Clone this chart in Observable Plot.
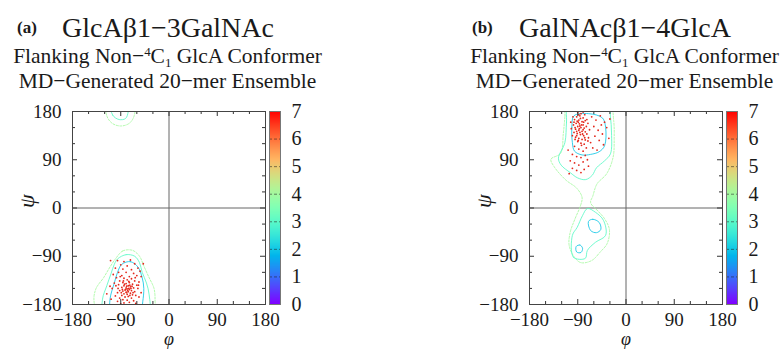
<!DOCTYPE html>
<html>
<head>
<meta charset="utf-8">
<script src="https://cdn.jsdelivr.net/npm/d3@7"></script>
<script src="https://cdn.jsdelivr.net/npm/@observablehq/plot@0.6"></script>
<style>
  body { margin: 0; background: #fff; }
  #fig { position: relative; width: 781px; height: 349px; overflow: hidden;
         font-family: "Liberation Serif", serif; color: #1a1a1a; }
  .abs { position: absolute; white-space: nowrap; line-height: 1; }
  .abs svg { overflow: visible; font-family: "Liberation Serif", serif !important; }
  .abs svg text { font-family: "Liberation Serif", serif !important; }
  .tag { font-size: 17px; font-weight: bold; }
  .name { font-size: 28px; }
  .sub { font-size: 21.5px; text-align: center; width: 335px; }
  .sup { font-size: 0.6em; position: relative; top: -0.55em; }
  .subs { font-size: 0.6em; position: relative; top: 0.3em; }
</style>
</head>
<body>
<div id="fig"></div>
<script>
// Panel titles and axis ticks
const panelTags = ["(a)", "(b)"];
const linkages = ["GlcAβ1−3GalNAc", "GalNAcβ1−4GlcA"];
const angleTicks = [-180, -90, 0, 90, 180];
const majorTicks = [-90, 0, 90];
const minorTicks = [-150, -120, -60, -30, 30, 60, 120, 150];
const levelTicks = [0, 1, 2, 3, 4, 5, 6, 7];
const levelDashes = [1, 2, 3, 4, 5, 6];

// 20-mer ensemble glycosidic torsions (phi, psi), GlcAβ1-3GalNAc
const ensembleA = [
  [-96,-98],[-84,-100],[-72,-97],[-64,-104],[-90,-106],[-78,-108],[-58,-112],[-100,-112],[-86,-114],[-70,-115],
  [-54,-118],[-94,-120],[-80,-120],[-66,-122],[-104,-124],[-60,-126],[-88,-126],[-74,-128],[-52,-128],[-98,-130],
  [-84,-131],[-70,-132],[-78,-134],[-92,-136],[-64,-136],[-56,-138],[-86,-139],[-74,-139],[-80,-141],[-102,-140],
  [-68,-142],[-94,-143],[-60,-144],[-76,-145],[-84,-145],[-72,-147],[-88,-148],[-80,-149],[-66,-149],[-78,-151],
  [-74,-152],[-82,-153],[-70,-154],[-86,-155],[-76,-156],[-80,-157],[-64,-156],[-92,-154],[-106,-150],[-58,-150],
  [-96,-158],[-72,-159],[-84,-160],[-78,-161],[-68,-162],[-88,-163],[-62,-163],[-100,-164],[-76,-165],[-82,-166],
  [-92,-168],[-70,-168],[-56,-166],[-86,-171],[-78,-172],[-66,-173],[-96,-174],[-74,-176],[-84,-177],[-62,-178],
  [-90,-179],[-108,-170],[-52,-158],[-110,-146],[-79,-146],[-75,-150],[-81,-152],[-77,-154],[-73,-144],[-83,-142],
  [-71,-150],[-87,-152],[-79,-158],[-69,-146],[-85,-136],[-75,-137],[-91,-128],[-63,-130],[-99,-145],[-57,-144],
  [-95,-150],[-67,-158],[-89,-158],[-73,-163],[-109,-98],[-116,-160],[-48,-104]
];

// 20-mer ensemble glycosidic torsions (phi, psi), GalNAcβ1-4GlcA
const ensembleB = [
  [-92,170],[-86,172],[-80,168],[-96,165],[-88,164],[-82,161],[-76,163],[-93,158],[-87,157],[-80,155],
  [-98,155],[-90,152],[-84,150],[-78,149],[-94,147],[-88,145],[-82,143],[-76,142],[-97,141],[-91,139],
  [-85,137],[-79,135],[-73,138],[-94,132],[-88,130],[-82,128],[-76,127],[-90,124],[-84,121],[-78,119],
  [-70,131],[-100,135],[-86,141],[-92,143],[-80,146],[-87,148],[-83,155],[-89,160],[-95,150],[-74,152],
  [-71,158],[-99,170],[-84,176],[-77,174],[-103,160],[-102,148],[-64,170],[-56,164],[-48,172],[-40,160],
  [-60,152],[-52,145],[-44,138],[-36,150],[-58,134],[-50,126],[-66,122],[-42,118],[-32,130],[-62,112],
  [-54,108],[-68,146],[-30,166],[-46,155],[-96,115],[-88,110],[-80,106],[-100,100],[-92,96],[-84,94],
  [-76,98],[-104,88],[-96,84],[-88,80],[-80,86],[-72,90],[-100,74],[-92,70],[-84,66],[-106,64],
  [-78,72],[-70,78],[-108,108],[-74,112],[-90,178],[-80,179],[-85,167],[-91,162],[-79,160],[-86,153],
  [-92,135],[-81,138],[-77,131],[-89,126],[-95,128],[-83,117],[-71,125],[-73,165],[-97,160],[-88,174]
];

// Free-energy contour rings (level, closed (phi, psi) outline), GlcAβ1-3GalNAc
const contoursA = [
  {level: 4, pts: [[-100,-95],[-86,-80],[-68,-79],[-55,-90],[-47,-108],[-38,-128],[-28,-150],[-26,-172],[-28,-196],[-80,-215],[-132,-196],[-140,-172],[-136,-150],[-122,-130],[-110,-110]]},
  {level: 3, pts: [[-96,-95],[-80,-87],[-64,-90],[-55,-102],[-50,-120],[-42,-140],[-37,-162],[-38,-196],[-80,-215],[-122,-196],[-124,-170],[-116,-145],[-108,-122],[-102,-105]]},
  {level: 2, pts: [[-88,-105],[-72,-100],[-58,-110],[-50,-130],[-47,-150],[-49,-175],[-53,-196],[-80,-215],[-108,-196],[-110,-170],[-102,-140],[-96,-120]]},
  {level: 4, pts: [[-116,196],[-116,172],[-106,158],[-90,153],[-74,158],[-65,172],[-65,196],[-90,215]]},
  {level: 3, pts: [[-108,196],[-105,173],[-93,165],[-81,167],[-76,180],[-76,196],[-92,215]]}
];

// Free-energy contour rings, GalNAcβ1-4GlcA
const contoursB = [
  {level: 4, pts: [[-112,196],[-114,170],[-117,138],[-122,102],[-140,91],[-134,77],[-112,52],[-92,37],[-82,20],[-85,4],[-95,-20],[-104,-45],[-106,-70],[-96,-92],[-84,-102],[-64,-98],[-48,-82],[-35,-66],[-31,-40],[-40,-20],[-52,-6],[-66,10],[-62,22],[-54,45],[-36,64],[-24,95],[-22,130],[-23,163],[-30,196],[-71,215]]},
  {level: 3, pts: [[-108,196],[-111,160],[-114,122],[-126,93],[-121,80],[-104,66],[-90,56],[-75,53],[-63,61],[-55,75],[-40,88],[-29,101],[-27,140],[-29,170],[-33,196],[-70,215]]},
  {level: 2, pts: [[-97,172],[-101,150],[-100,122],[-96,106],[-82,99],[-66,100],[-50,105],[-40,116],[-38,150],[-44,168],[-70,176]]},
  {level: 3, pts: [[-100,-51],[-98,-92],[-76,-94],[-72,-79],[-57,-64],[-38,-51],[-42,-23],[-57,-8],[-72,-1],[-81,-14],[-91,-36]]},
  {level: 2, pts: [[-70,-25],[-62,-21],[-50,-27],[-47,-40],[-55,-46],[-66,-42]]},
  {level: 2, pts: [[-93,-72],[-86,-69],[-81,-75],[-84,-83],[-92,-82]]}
];

// Purple → blue → cyan → green → yellow → red ramp
const rainbow = t => {
  const r = Math.min(1, Math.abs(2 * t - 0.5));
  const g = Math.sin(Math.PI * t);
  const b = Math.cos(Math.PI * t / 2);
  return d3.rgb(r * 255, g * 255, b * 255).formatHex();
};
const colorScale = {type: "linear", domain: [0, 7], interpolate: rainbow};

const FRAME = 193;            // square plotting area, px
const M = {top: 11, bottom: 45};
const ink = "#1a1a1a";
const serif = "'Liberation Serif', serif";
const intFormat = d3.format("d");

function frameTicks(values, len) {
  const inset = FRAME - len;
  const o = {stroke: "#333", strokeWidth: 1};
  return [
    Plot.tickX(values, {x: d => d, insetTop: inset, ...o}),
    Plot.tickX(values, {x: d => d, insetBottom: inset, ...o}),
    Plot.tickY(values, {y: d => d, insetRight: inset, ...o}),
    Plot.tickY(values, {y: d => d, insetLeft: inset, ...o})
  ];
}

function torsionMap(points, rings) {
  const rows = rings.flatMap((r, i) => r.pts.map(([phi, psi]) => ({ring: i, level: r.level, phi, psi})));
  const lineOpts = {x: "phi", y: "psi", z: "ring", stroke: "level", curve: "catmull-rom-closed",
                    clip: true, strokeWidth: 1, strokeOpacity: 0.85};
  return Plot.plot({
    width: 72 + FRAME + 3, height: M.top + FRAME + M.bottom,
    marginLeft: 72, marginRight: 3, marginTop: M.top, marginBottom: M.bottom,
    style: {fontFamily: serif, fontSize: "19px", background: "transparent", color: ink, overflow: "visible"},
    x: {domain: [-180, 180]},
    y: {domain: [-180, 180]},
    color: colorScale,
    marks: [
      Plot.ruleX([0], {stroke: "#666"}),
      Plot.ruleY([0], {stroke: "#666"}),
      Plot.line(rows.filter(d => d.level >= 4), {...lineOpts, strokeDasharray: "2,1.5"}),
      Plot.line(rows.filter(d => d.level < 4), lineOpts),
      Plot.dot(points, {x: d => d[0], y: d => d[1], r: 0.9, fill: "#e4281c", clip: true}),
      ...frameTicks(majorTicks, 5),
      ...frameTicks(minorTicks, 3),
      Plot.frame({stroke: "#444"}),
      Plot.axisX({ticks: angleTicks, tickSize: 0, tickPadding: 8, label: null, tickFormat: intFormat, fontFamily: serif}),
      Plot.axisY({ticks: angleTicks, tickSize: 0, tickPadding: 11, label: null, tickFormat: intFormat, fontFamily: serif}),
      Plot.text(["ψ"], {text: d => d, frameAnchor: "left", dx: -46, rotate: -90, fontSize: 22, fontStyle: "italic", fontFamily: serif}),
      Plot.text(["φ"], {text: d => d, frameAnchor: "bottom", dy: 40, fontSize: 18, fontStyle: "italic", fontFamily: serif})
    ]
  });
}

function colorBar() {
  const step = 7 / FRAME;
  const ramp = d3.range(0, 7, step);
  return Plot.plot({
    width: 60, height: M.top + FRAME + M.bottom,
    marginLeft: 1, marginRight: 48, marginTop: M.top, marginBottom: M.bottom,
    style: {fontFamily: serif, fontSize: "20px", background: "transparent", color: ink, overflow: "visible"},
    x: {domain: [0, 1], axis: null},
    y: {domain: [0, 7]},
    color: colorScale,
    marks: [
      Plot.rect(ramp, {x1: 0, x2: 1, y1: d => d, y2: d => Math.min(7, d + step * 1.6), fill: d => d + step / 2}),
      Plot.ruleY(levelDashes, {stroke: "#222", strokeOpacity: 0.55, strokeDasharray: "3,2"}),
      Plot.frame({stroke: "#777"}),
      Plot.axisY({anchor: "right", ticks: levelTicks, tickSize: 0, tickPadding: 11, label: null, tickFormat: intFormat, fontFamily: serif})
    ]
  });
}

const fig = document.getElementById("fig");
function place(node, left, top, width) {
  const div = document.createElement("div");
  div.className = "abs";
  div.style.left = left + "px";
  div.style.top = top + "px";
  if (width) div.style.width = width + "px";
  if (typeof node === "string") div.innerHTML = node; else div.appendChild(node);
  fig.appendChild(div);
  return div;
}

const offsets = [0, 457];
const ensembles = [ensembleA, ensembleB];
const contours = [contoursA, contoursB];
const tagLeft = [17, 472];
const nameLeft = [62, 519];

offsets.forEach((dx, i) => {
  place(`<span class="tag">${panelTags[i]}</span>`, tagLeft[i], 19);
  place(`<span class="name">${linkages[i]}</span>`, nameLeft[i], 13.5);
  const s1 = place(`Flanking Non−<span class="sup">4</span>C<span class="subs">1</span> GlcA Conformer`, dx, 46, 335);
  s1.classList.add("sub");
  const s2 = place(`MD−Generated 20−mer Ensemble`, dx, 71, 335);
  s2.classList.add("sub");
  place(torsionMap(ensembles[i], contours[i]), dx, 100, 268);
  place(colorBar(), dx + 268, 100, 60);
});
</script>
</body>
</html>
